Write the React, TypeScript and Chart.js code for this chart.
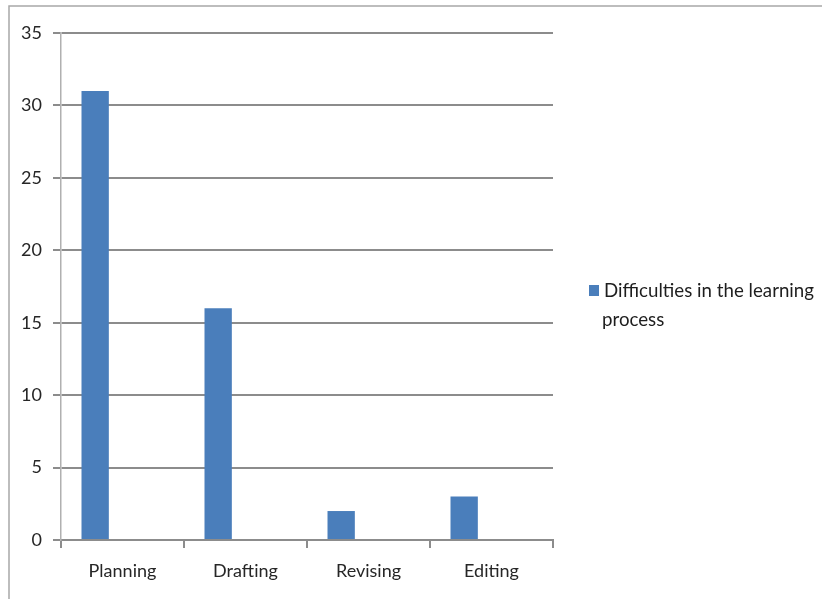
import React, { useEffect, useRef } from "react";
import { Chart, registerables } from "chart.js";

Chart.register(...registerables);

// Writing stages and how many students reported difficulty at each one
const categories: string[] = ["Planning", "Drafting", "Revising", "Editing"];
const difficulties: (number | null)[] = [31, 16, 2, 3];
// Two empty series keep the bar in the first slot of each category group
const emptySeriesA: (number | null)[] = [null, null, null, null];
const emptySeriesB: (number | null)[] = [null, null, null, null];
const seriesLabel = "Difficulties in the learning process";

const yMin = 0;
const yMax = 35;
const yStep = 5;

const BAR_COLOR = "#4A7EBB";
const GRID_COLOR = "#8c8c8c";
const TEXT_COLOR = "#262626";
const FONT_FAMILY = "Lato, 'Noto Sans', sans-serif";

// Frame lines plus a wrapped legend on the right side
const frameAndLegend = {
  id: "frameAndLegend",
  afterDraw(chart: Chart) {
    const ctx = chart.ctx;
    ctx.save();
    // frame: top and left edges
    ctx.strokeStyle = "#a8a8a8";
    ctx.lineWidth = 1.5;
    ctx.beginPath();
    ctx.moveTo(9, 599);
    ctx.lineTo(9, 6);
    ctx.lineTo(822, 6);
    ctx.stroke();

    // legend
    const ds = chart.data.datasets[0];
    const label = String(ds.label ?? "");
    ctx.font = `18.7px ${FONT_FAMILY}`;
    const textX = 604;
    const maxWidth = 214;
    const words = label.split(" ");
    const lines: string[] = [];
    let current = "";
    for (const w of words) {
      const test = current ? current + " " + w : w;
      if (ctx.measureText(test).width > maxWidth && current) {
        lines.push(current);
        current = w;
      } else {
        current = test;
      }
    }
    if (current) lines.push(current);

    ctx.fillStyle = String(ds.backgroundColor);
    ctx.fillRect(589, 285, 10, 11);
    ctx.fillStyle = "#1e1e1e";
    ctx.textBaseline = "alphabetic";
    ctx.textAlign = "left";
    lines.forEach((line, i) => {
      ctx.fillText(line, i === 0 ? textX : textX - 2, 297 + i * 29);
    });
    ctx.restore();
  },
};

export default function App() {
  const canvasRef = useRef<HTMLCanvasElement | null>(null);

  useEffect(() => {
    if (!canvasRef.current) return;
    const chart = new Chart(canvasRef.current, {
      type: "bar",
      data: {
        labels: categories,
        datasets: [
          { label: seriesLabel, data: difficulties, backgroundColor: BAR_COLOR },
          { label: "", data: emptySeriesA, backgroundColor: BAR_COLOR },
          { label: "", data: emptySeriesB, backgroundColor: BAR_COLOR },
        ],
      },
      options: {
        responsive: false,
        animation: false,
        events: [],
        datasets: {
          bar: {
            categoryPercentage: 3 / 4.5,
            barPercentage: 1,
          },
        },
        layout: {
          padding: { left: 0, top: 33, right: 269, bottom: 0 },
        },
        plugins: {
          legend: { display: false },
          tooltip: { enabled: false },
          title: { display: false },
        },
        scales: {
          x: {
            offset: true,
            grid: {
              offset: true,
              drawOnChartArea: false,
              drawTicks: true,
              tickLength: 8,
              color: GRID_COLOR,
              lineWidth: 2,
            },
            border: { display: true, color: GRID_COLOR, width: 2 },
            ticks: {
              color: TEXT_COLOR,
              font: { family: FONT_FAMILY, size: 18 },
              padding: 12,
              maxRotation: 0,
            },
            afterFit(scale: any) {
              scale.height = 59;
            },
          },
          y: {
            min: yMin,
            max: yMax,
            ticks: {
              stepSize: yStep,
              color: TEXT_COLOR,
              font: { family: FONT_FAMILY, size: 18 },
              padding: 11,
            },
            grid: {
              color: GRID_COLOR,
              lineWidth: 2,
              drawTicks: true,
              tickLength: 8,
            },
            border: { display: true, color: "#b0b0b0", width: 1.5 },
            afterFit(scale: any) {
              scale.width = 61;
            },
          },
        },
      },
      plugins: [frameAndLegend],
    });
    return () => chart.destroy();
  }, []);

  return (
    <div style={{ position: "absolute", left: 0, top: 0, width: 822, height: 599, background: "#ffffff" }}>
      <canvas ref={canvasRef} width={822} height={599} style={{ display: "block" }} />
    </div>
  );
}
